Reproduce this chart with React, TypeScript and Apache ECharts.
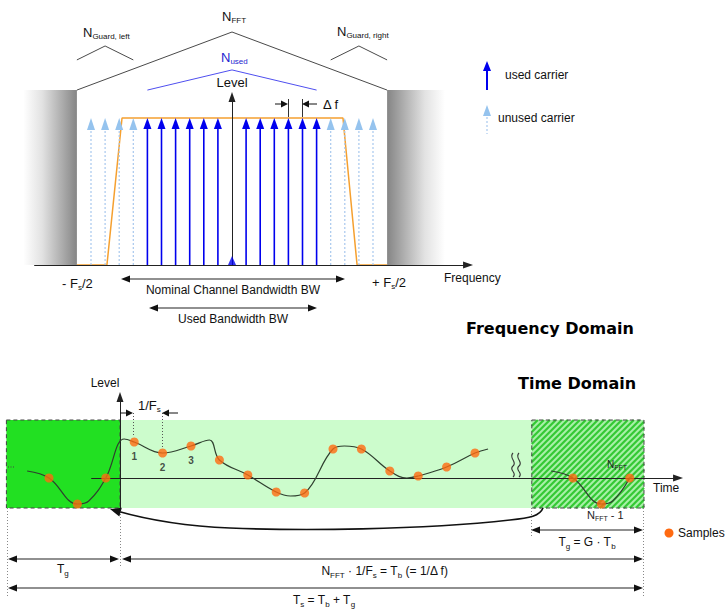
import React, { useEffect, useRef } from "react";
import * as echarts from "echarts";

// ---------------- Frequency domain (x: carrier index, y: level) ----------------
const usedCarriers = [-6, -5, -4, -3, -2, -1, 1, 2, 3, 4, 5, 6];
const unusedCarriers = [-10, -9, -8, -7, 7, 8, 9, 10];
const carrierLevel = 1;
const dcCarrier = [[0, 0.03]];
const spectrumMask = [[-11, 0], [-8.87, 0], [-7.8, 1], [7.87, 1], [8.87, 0], [11, 0]];
const guardBands = [[-14.8, -11, 0], [11, 15.1, 1]];
const guardTop = 1.19;
const fftRoof = [[-11, 1.19], [0, 1.585], [11, 1.19]];
const usedRoof = [[-6, 1.19], [0, 1.327], [6, 1.19]];
const guardLeftRoof = [[-11, 1.395], [-9, 1.49], [-7, 1.395]];
const guardRightRoof = [[7, 1.395], [9, 1.49], [11, 1.395]];

// ---------------- Time domain (x: sample time, y: level) ----------------
const prefixSamples = [[-2.5, 0], [-1.5, -2.6], [-0.5, 0]];
const symbolSamples = [
  [0.5, 3.6], [1.5, 2.5], [2.5, 3.2], [3.5, 1.8], [4.5, 0.3], [5.5, -1.4], [6.5, -1.5],
  [7.5, 2.9], [8.5, 2.9], [9.5, 0.7], [10.5, 0.2], [11.5, 1.1], [12.5, 2.5],
];
const sampleNumbers = ["1", "2", "3"];
const tailSamples = [[15.95, 0], [16.95, -2.6], [17.95, 0]];
const waveform = [
  [-3.27, 0.7], [-2.5, 0], [-1.5, -2.6], [-1.1, -2.3], [-0.5, 0], [0.15, 3.9], [0.5, 3.6],
  [1.5, 2.5], [2.5, 3.2], [3.15, 3.8], [3.5, 1.8], [4.5, 0.3], [5.5, -1.4], [6.0, -1.8],
  [6.5, -1.5], [7.5, 2.9], [7.9, 3.2], [8.5, 2.9], [9.5, 0.7], [10.1, 0.0], [10.5, 0.2],
  [11.5, 1.1], [12.5, 2.5], [12.96, 2.9],
];
const tailWaveform = [[15.18, 0.7], [15.95, 0], [16.95, -2.6], [17.35, -2.3], [17.95, 0]];
const timeRegions = [[-4, 0, 0], [0, 14.5, 1], [14.5, 18.45, 2]];
const regionLevels = [-3, 5.8];

const FONT = '"Liberation Sans", Arial, Helvetica, sans-serif';
const TITLE_FONT = '"DejaVu Sans", sans-serif';

echarts.graphic.registerShape(
  "curvedArrow",
  echarts.graphic.extendPath(
    "M543,508 C540,516 530,518 510,520 C420,530 300,531 230,528 C180,526 145,519 117,511",
    {}
  )
);
echarts.graphic.registerShape(
  "breakMark",
  echarts.graphic.extendPath(
    "M513,453 C508,458 518,462 513,466 C508,470 518,473 513,477 M519,453 C514,458 524,462 519,466 C514,470 524,473 519,477",
    {}
  )
);

let measureCtx: any = null;
function measure(text: string, size: number, weight = "normal") {
  if (!measureCtx) measureCtx = document.createElement("canvas").getContext("2d");
  measureCtx.font = `${weight} ${size}px ${FONT}`;
  return measureCtx.measureText(text).width;
}
function txt(x: number, y: number, text: string, size: number, o: any = {}) {
  const align = o.align || "left";
  return {
    type: "text", x, y, z: 20, silent: true,
    style: {
      text, fill: o.color || "#111",
      font: `${o.weight || "normal"} ${size}px ${o.family || FONT}`,
      align, verticalAlign: "middle", textAlign: align, textVerticalAlign: "middle",
    },
  };
}
function composite(x: number, y: number, parts: any[], size: number, subSize: number, o: any = {}) {
  const w = parts.map(([t, s]: any) => measure(t, s ? subSize : size, o.weight));
  const total = w.reduce((a: number, b: number) => a + b, 0);
  let cx = o.align === "center" ? x - total / 2 : x;
  const out: any[] = [];
  parts.forEach(([t, s]: any, i: number) => {
    out.push(txt(cx, s ? y + size * 0.35 : y, t, s ? subSize : size, { color: o.color, weight: o.weight }));
    cx += w[i];
  });
  return out;
}
function seg(x1: number, y1: number, x2: number, y2: number, color = "#111", width = 1, dash: any = null) {
  return { type: "line", z: 15, silent: true, shape: { x1, y1, x2, y2 }, style: { stroke: color, lineWidth: width, lineDash: dash } };
}
function head(tx: number, ty: number, dx: number, dy: number, len = 9, hw = 3.5, color = "#111") {
  const bx = tx - dx * len, by = ty - dy * len;
  return {
    type: "polygon", z: 16, silent: true,
    shape: { points: [[tx, ty], [bx - dy * hw, by + dx * hw], [bx + dy * hw, by - dx * hw]] },
    style: { fill: color },
  };
}
function dim(x1: number, x2: number, y: number) {
  return [seg(x1 + 4, y, x2 - 4, y, "#222", 1.2), head(x1, y, -1, 0), head(x2, y, 1, 0)];
}

function buildGraphic() {
  const g: any[] = [];
  // ---- frequency domain annotations ----
  g.push(...composite(83, 32, [["N", 0], ["Guard, left", 1]], 13, 8));
  g.push(...composite(222, 16, [["N", 0], ["FFT", 1]], 13, 8));
  g.push(...composite(221, 57, [["N", 0], ["used", 1]], 13, 8, { color: "#2424d0" }));
  g.push(...composite(337, 31, [["N", 0], ["Guard, right", 1]], 13, 8));
  g.push(txt(232, 82, "Level", 13, { align: "center" }));
  // delta f
  g.push(seg(275, 104, 284, 104), head(288, 104, 1, 0, 7, 3.5), seg(288.5, 99, 288.5, 117, "#333", 1));
  g.push(seg(306, 104, 317, 104), head(302, 104, -1, 0, 7, 3.5), seg(302.5, 99, 302.5, 117, "#333", 1));
  g.push(txt(323, 104, "\u0394 f", 13));
  // legend
  g.push(seg(487, 90, 487, 69, "#0000ee", 2), head(487, 61, 0, -1, 10, 4, "#0000ee"));
  g.push(txt(505, 75, "used carrier", 12));
  g.push(head(487, 105, 0, -1, 11, 4, "#95c3ee"), seg(487, 117, 487, 134, "#a8c8ee", 1.2, [2, 2]));
  g.push(txt(498, 118, "unused carrier", 12));
  // bandwidth arrows
  g.push(...dim(121, 345, 279));
  g.push(txt(233, 290, "Nominal Channel Bandwidth BW", 12, { align: "center" }));
  g.push(...dim(149, 317, 308));
  g.push(txt(233, 319, "Used Bandwidth BW", 12, { align: "center" }));
  g.push(...composite(62, 283, [["- F", 0], ["s", 1], ["/2", 0]], 13, 8));
  g.push(...composite(372, 282, [["+ F", 0], ["s", 1], ["/2", 0]], 13, 8));
  g.push(txt(444, 278, "Frequency", 12));
  // titles
  g.push(txt(466, 328, "Frequency Domain", 16, { weight: "bold", family: TITLE_FONT, color: "#000" }));
  g.push(txt(518, 383, "Time Domain", 16, { weight: "bold", family: TITLE_FONT, color: "#000" }));

  // ---- time domain annotations ----
  g.push(txt(105, 383, "Level", 12, { align: "center" }));
  g.push(seg(120, 413, 129, 413), head(133, 413, 1, 0, 7, 3.5), seg(133.5, 413, 133.5, 437, "#555", 1, [1, 2]));
  g.push(seg(166, 413, 178, 413), head(162, 413, -1, 0, 7, 3.5), seg(162.5, 413, 162.5, 448, "#555", 1, [1, 2]));
  g.push(...composite(138, 405, [["1/F", 0], ["s", 1]], 13, 8));
  g.push({ type: "breakMark", x: 0, y: 0, z: 15, silent: true, style: { fill: "none", stroke: "#333", lineWidth: 1.1 } });
  g.push(seg(8, 467, 14, 467, "#444", 1, [1, 1.5]));
  g.push(txt(653, 488, "Time", 12));
  g.push(...composite(607, 464, [["N", 0], ["FFT", 1]], 10, 7, { color: "#222" }));
  g.push(...composite(587, 515, [["N", 0], ["FFT", 1], [" - 1", 0]], 11, 7, { color: "#222" }));
  // curved arrow
  g.push({ type: "curvedArrow", x: 0, y: 0, z: 15, silent: true, style: { fill: "none", stroke: "#111", lineWidth: 1.6 } });
  g.push(head(110, 509, -0.96, -0.28, 11, 4.5));
  // dotted verticals
  g.push(seg(7.5, 508, 7.5, 597, "#888", 1, [1, 2]));
  g.push(seg(120.5, 508, 120.5, 566, "#888", 1, [1, 2]));
  g.push(seg(643.5, 508, 643.5, 597, "#888", 1, [1, 2]));
  g.push(seg(531.5, 508, 531.5, 537, "#888", 1, [1, 2]));
  // dimension arrows
  g.push(...dim(531, 643, 530));
  g.push(...composite(587, 542, [["T", 0], ["g", 1], [" = G \u00b7 T", 0], ["b", 1]], 12, 8, { align: "center" }));
  g.push(...dim(8, 119, 559));
  g.push(...composite(57, 569, [["T", 0], ["g", 1]], 12, 8));
  g.push(...dim(122, 643, 559));
  g.push(...composite(385, 571, [["N", 0], ["FFT", 1], [" \u00b7 1/F", 0], ["s", 1], [" = T", 0], ["b", 1], [" (= 1/\u0394 f)", 0]], 12, 8, { align: "center" }));
  g.push(...dim(8, 643, 588));
  g.push(...composite(324, 600, [["T", 0], ["s", 1], [" = T", 0], ["b", 1], [" + T", 0], ["g", 1]], 12, 8, { align: "center" }));
  // samples legend
  g.push({ type: "circle", z: 15, silent: true, shape: { cx: 669, cy: 533, r: 4.5 }, style: { fill: "#ff6a10" } });
  g.push(txt(678, 533, "Samples", 12));
  return g;
}

function axisPair(gridIndex: number, xmin: number, xmax: number, ymin: number, ymax: number, visible = true) {
  const line = {
    show: visible, onZero: true, symbol: ["none", "triangle"], symbolSize: [7, 10],
    lineStyle: { color: "#222", width: 1 },
  };
  const common = {
    gridIndex, type: "value", axisLine: line, axisTick: { show: false },
    axisLabel: { show: false }, splitLine: { show: false }, z: 5,
  };
  return {
    x: { ...common, min: xmin, max: xmax },
    y: { ...common, min: ymin, max: ymax },
  };
}

export default function App() {
  const ref = useRef<HTMLDivElement>(null);
  useEffect(() => {
    if (!ref.current) return;
    const chart = echarts.init(ref.current, null, { renderer: "svg" });
    // grid 0: frequency domain; grid 1: time-domain axes; grid 2: same time scale, wider (data)
    const fa = axisPair(0, -14, 16.74, 0, 168 / 147);
    const ta = axisPair(1, -1, 19.65, -3, 8.1);
    const td = axisPair(2, -4.2, 19.65, -3, 8.1, false);

    const carrierData = [
      ...unusedCarriers.map((k) => [k, carrierLevel, 0]),
      ...usedCarriers.map((k) => [k, carrierLevel, 1]),
    ];

    const roofSeries = (data: any, color: string) => ({
      type: "line", xAxisIndex: 0, yAxisIndex: 0, data, symbol: "none", clip: false, z: 2,
      lineStyle: { color, width: 1 }, silent: true,
    });

    const option: any = {
      animation: false,
      backgroundColor: "#ffffff",
      textStyle: { fontFamily: FONT },
      grid: [
        { left: 34.6, top: 97, width: 30.74 * 14.1, height: 168 },
        { left: 91.6, top: 397, width: 20.65 * 28.4, height: 111 },
        { left: 120 - 4.2 * 28.4, top: 397, width: 23.85 * 28.4, height: 111 },
      ],
      xAxis: [fa.x, ta.x, td.x],
      yAxis: [fa.y, ta.y, td.y],
      series: [
        {
          type: "custom", xAxisIndex: 0, yAxisIndex: 0, data: guardBands, clip: false, z: 1, silent: true,
          renderItem: (params: any, api: any) => {
            const a = api.value(0), b = api.value(1), side = api.value(2);
            const p0 = api.coord([a, guardTop]);
            const p1 = api.coord([b, 0]);
            const stops = side === 0
              ? [{ offset: 0, color: "#ffffff" }, { offset: 0.35, color: "#e2e2e2" }, { offset: 1, color: "#858585" }]
              : [{ offset: 0, color: "#858585" }, { offset: 0.65, color: "#e2e2e2" }, { offset: 1, color: "#ffffff" }];
            return {
              type: "rect",
              shape: { x: p0[0], y: p0[1], width: p1[0] - p0[0], height: p1[1] - p0[1] },
              style: { fill: new echarts.graphic.LinearGradient(0, 0, 1, 0, stops) },
            };
          },
        },
        {
          type: "line", xAxisIndex: 0, yAxisIndex: 0, data: spectrumMask, symbol: "none", clip: false, z: 2,
          lineStyle: { color: "#f5a030", width: 1.5 }, silent: true,
        },
        {
          type: "custom", xAxisIndex: 0, yAxisIndex: 0, data: carrierData, clip: false, z: 3, silent: true,
          renderItem: (params: any, api: any) => {
            const k = api.value(0), a = api.value(1), used = api.value(2) === 1;
            const base = api.coord([k, 0]);
            const tip = api.coord([k, a]);
            const hl = used ? 11 : 12, hw = 4;
            return {
              type: "group",
              children: [
                {
                  type: "line",
                  shape: { x1: base[0], y1: base[1], x2: tip[0], y2: tip[1] + hl - 1 },
                  style: { stroke: used ? "#0000ee" : "#a8c8ee", lineWidth: used ? 1.6 : 1.2, lineDash: used ? null : [2, 2] },
                },
                {
                  type: "polygon",
                  shape: { points: [[tip[0], tip[1]], [tip[0] - hw, tip[1] + hl], [tip[0] + hw, tip[1] + hl]] },
                  style: { fill: used ? "#0000ee" : "#95c3ee" },
                },
              ],
            };
          },
        },
        {
          type: "scatter", xAxisIndex: 0, yAxisIndex: 0, data: dcCarrier, symbol: "triangle",
          symbolSize: [8, 9], itemStyle: { color: "#0000ee" }, z: 6, silent: true,
        },
        roofSeries(fftRoof, "#4a4a4a"),
        roofSeries(usedRoof, "#4f4ff0"),
        roofSeries(guardLeftRoof, "#4a4a4a"),
        roofSeries(guardRightRoof, "#4a4a4a"),
        // ---- time domain ----
        {
          type: "custom", xAxisIndex: 2, yAxisIndex: 2, data: timeRegions, clip: false, z: 1, silent: true,
          renderItem: (params: any, api: any) => {
            const a = api.value(0), b = api.value(1), kind = api.value(2);
            const p0 = api.coord([a, regionLevels[1]]);
            const p1 = api.coord([b, regionLevels[0]]);
            const x0 = p0[0], y0 = p0[1], x1 = p1[0], y1 = p1[1];
            const children: any[] = [];
            const fill = kind === 0 ? "#22e022" : kind === 1 ? "#ccfccc" : "#a8f0a8";
            children.push({ type: "rect", shape: { x: x0, y: y0, width: x1 - x0, height: y1 - y0 }, style: { fill } });
            if (kind === 2) {
              for (let c = x0 + y0; c <= x1 + y1; c += 6) {
                const xa = Math.max(x0, c - y1), xb = Math.min(x1, c - y0);
                if (xa < xb) {
                  children.push({ type: "line", shape: { x1: xa, y1: c - xa, x2: xb, y2: c - xb }, style: { stroke: "#34c934", lineWidth: 2.2 } });
                }
              }
            }
            if (kind !== 1) {
              children.push({
                type: "rect", shape: { x: x0, y: y0, width: x1 - x0, height: y1 - y0 },
                style: { fill: "none", stroke: "#444", lineWidth: 1, lineDash: [4, 3] },
              });
            }
            return { type: "group", children };
          },
        },
        {
          type: "line", xAxisIndex: 2, yAxisIndex: 2, data: waveform, smooth: 0.4, symbol: "none", clip: false, z: 6,
          lineStyle: { color: "#2f3f2f", width: 1.2 }, silent: true,
        },
        {
          type: "line", xAxisIndex: 2, yAxisIndex: 2, data: tailWaveform, smooth: 0.4, symbol: "none", clip: false, z: 6,
          lineStyle: { color: "#2f3f2f", width: 1.2 }, silent: true,
        },
        {
          type: "scatter", xAxisIndex: 2, yAxisIndex: 2, clip: false, z: 7, silent: true,
          symbolSize: 9, itemStyle: { color: "#ff6a10" },
          label: { show: false, position: "bottom", distance: 5, fontSize: 10, fontWeight: "bold", color: "#222", fontFamily: FONT },
          data: [
            ...prefixSamples,
            ...symbolSamples.map((p, i) =>
              i < sampleNumbers.length ? { value: p, label: { show: true, formatter: sampleNumbers[i] } } : p
            ),
            ...tailSamples,
          ],
        },
      ],
      graphic: { elements: buildGraphic() },
    };
    chart.setOption(option);
    return () => chart.dispose();
  }, []);
  return (
    <div
      ref={ref}
      style={{ position: "fixed", left: 0, top: 0, width: 726, height: 616, background: "#fff" }}
    />
  );
}
